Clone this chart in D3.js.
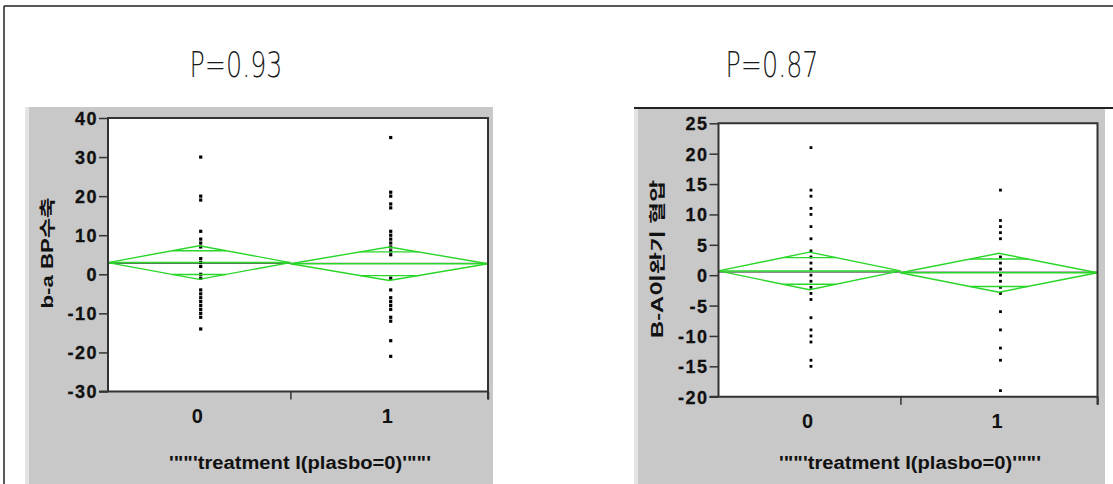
<!DOCTYPE html>
<html lang="en">
<head>
    <meta charset="UTF-8">
    <title>Means diamonds</title>
    <script src="https://d3js.org/d3.v7.min.js"></script>
    <style type="text/css">
        body { margin: 0; background: #fff; }
        .ytick text { font-family: "Liberation Sans", Arial, sans-serif; font-size: 18px; font-weight: bold; letter-spacing: 1.5px; }
    </style>
</head>
    <body>
        <script type="text/javascript">

        //Width and height
        var w = 1113;
        var h = 484;

        //Data
        var groups = ["0", "1"];
        var groupN = [24, 26];

        var leftTitle = "P=0.93";
        var leftYLabel = "b-a BP수축";
        var leftTicks = [40, 30, 20, 10, 0, -10, -20, -30];
        var leftVals0 = [30, 20, 19, 11, 9, 8, 7, 4, 3, 2, 0, -1, -4, -5, -6, -7, -8, -9, -10, -11, -14];
        var leftVals1 = [35, 21, 20, 18, 17, 11, 10, 9, 8, 7, 6, 5, -1, -4, -6, -7, -8, -9, -11, -12, -17, -21];
        var leftMeans = [3.0, 2.7];
        var leftHalfCI = [4.3, 4.3];
        var leftGrand = 2.8;

        var rightTitle = "P=0.87";
        var rightYLabel = "B-A이완기 혈압";
        var rightTicks = [25, 20, 15, 10, 5, 0, -5, -10, -15, -20];
        var rightVals0 = [21, 14, 13, 11, 10, 8, 6, 4, 3, 2, 1, 0, -1, -2, -3, -4, -7, -9, -10, -11, -14, -15];
        var rightVals1 = [14, 9, 8, 7, 6, 3, 2, 1, 0, -1, -2, -3, -6, -9, -12, -14, -19];
        var rightMeans = [0.7, 0.4];
        var rightHalfCI = [3.1, 3.2];
        var rightGrand = 0.5;

        var xTitle = "'\"\"'treatment I(plasbo=0)'\"\"'";

        var green = "#29d629";

        var svg = d3.select("body")
            .append("svg")
            .attr("width", w)
            .attr("height", h);

        //outer frame
        svg.append("line").attr("x1", 4).attr("y1", 6).attr("x2", w).attr("y2", 6)
            .attr("stroke", "#222").attr("stroke-width", 1.5);
        svg.append("line").attr("x1", 4).attr("y1", 6).attr("x2", 4).attr("y2", h)
            .attr("stroke", "#222").attr("stroke-width", 1.5);

        function drawPanel(p) {
            var g = svg.append("g");

            //gray frame of the jmp window
            g.append("rect")
                .attr("x", p.box[0]).attr("y", p.box[1])
                .attr("width", p.box[2] - p.box[0]).attr("height", h - p.box[1])
                .attr("fill", "#c8c8c8");
            g.append("rect")
                .attr("x", p.box[0]).attr("y", p.box[1])
                .attr("width", 4).attr("height", h - p.box[1])
                .attr("fill", "#e4e4e4");

            //plot area
            g.append("rect")
                .attr("x", p.left).attr("y", p.top)
                .attr("width", p.right - p.left).attr("height", p.bottom - p.top)
                .attr("fill", "#fff");

            var yScale = d3.scaleLinear()
                .domain([p.ticks[p.ticks.length - 1], p.ticks[0]])
                .range([p.bottom, p.top]);

            var total = d3.sum(groupN);
            var xScale = d3.scaleLinear()
                .domain([0, total])
                .range([p.left, p.right]);
            var starts = [0, groupN[0]];
            var ends = [groupN[0], total];

            //grand mean
            g.append("line")
                .attr("x1", p.left).attr("x2", p.right)
                .attr("y1", yScale(p.grand)).attr("y2", yScale(p.grand))
                .attr("stroke", "#666").attr("stroke-width", 1.2);

            //points
            [p.vals0, p.vals1].forEach(function(vals, i) {
                var cx = xScale((starts[i] + ends[i]) / 2) + 1.5;
                g.selectAll(null)
                    .data(vals)
                    .enter()
                    .append("rect")
                    .attr("x", cx - p.dot / 2)
                    .attr("y", function(d) { return yScale(d) - p.dot / 2; })
                    .attr("width", p.dot)
                    .attr("height", p.dot)
                    .attr("fill", "#000");
            });

            //means diamonds
            groups.forEach(function(grp, i) {
                var x0 = xScale(starts[i]), x1 = xScale(ends[i]);
                var xm = (x0 + x1) / 2;
                var m = p.means[i], ci = p.halfCI[i];
                var pts = [[x0, yScale(m)], [xm, yScale(m + ci)], [x1, yScale(m)], [xm, yScale(m - ci)]];
                g.append("path")
                    .attr("d", d3.line()(pts) + "Z")
                    .attr("fill", "none")
                    .attr("stroke", green)
                    .attr("stroke-width", 1.4);
                g.append("line")
                    .attr("x1", x0).attr("x2", x1)
                    .attr("y1", yScale(m)).attr("y2", yScale(m))
                    .attr("stroke", green).attr("stroke-width", 1.6);
                //overlap marks
                var off = ci / Math.SQRT2;
                var half = (x1 - x0) / 2 * (1 - 1 / Math.SQRT2);
                [m + off, m - off].forEach(function(v) {
                    g.append("line")
                        .attr("x1", xm - half).attr("x2", xm + half)
                        .attr("y1", yScale(v)).attr("y2", yScale(v))
                        .attr("stroke", green).attr("stroke-width", 1.4);
                });
            });

            //axes
            var yAxis = d3.axisLeft(yScale).tickValues(p.ticks).tickSize(9).tickPadding(1)
                .tickFormat(function(d) { return String(d); });
            var ya = g.append("g")
                .attr("class", "ytick")
                .attr("transform", "translate(" + p.left + ",0)")
                .call(yAxis);
            ya.select(".domain").remove();
            ya.selectAll("line").attr("stroke", "#333").attr("stroke-width", 1.5);
            ya.selectAll("text").attr("fill", "#111").attr("dy", "0.36em")
                .attr("stroke", "#111").attr("stroke-width", 0.3);

            var xa = g.append("g")
                .attr("transform", "translate(0," + p.bottom + ")")
                .call(d3.axisBottom(xScale).tickValues([groupN[0], total]).tickSize(8).tickFormat(""));
            xa.select(".domain").remove();
            xa.selectAll("line").attr("stroke", "#333").attr("stroke-width", 1.5);

            g.selectAll(".xlab")
                .data(groups)
                .enter()
                .append("text")
                .attr("x", function(d, i) { return xScale((starts[i] + ends[i]) / 2) - 2; })
                .attr("y", p.bottom + 31)
                .attr("text-anchor", "middle")
                .attr("font-family", "Liberation Sans, Arial, sans-serif")
                .attr("font-weight", "bold")
                .attr("font-size", "20px")
                .attr("fill", "#111")
                .text(function(d) { return d; });

            //frame of the plot area
            g.append("path")
                .attr("d", "M" + p.left + "," + p.bottom + "V" + p.top + "H" + p.right + "V" + (p.bottom + 8))
                .attr("fill", "none").attr("stroke", "#333").attr("stroke-width", 2);
            g.append("line")
                .attr("x1", p.left - 9).attr("x2", p.right)
                .attr("y1", p.bottom).attr("y2", p.bottom)
                .attr("stroke", "#333").attr("stroke-width", 2);

            //titles
            g.append("text")
                .attr("x", (p.left + p.right) / 2 + 2)
                .attr("y", 469)
                .attr("text-anchor", "middle")
                .attr("font-family", "Liberation Sans, Arial, sans-serif")
                .attr("font-weight", "bold")
                .attr("font-size", "18px")
                .attr("textLength", 262)
                .attr("lengthAdjust", "spacingAndGlyphs")
                .attr("fill", "#111")
                .text(xTitle);

            g.append("text")
                .attr("transform", "translate(" + p.ylab[0] + "," + p.ylab[1] + ") rotate(-90)")
                .attr("text-anchor", "middle")
                .attr("font-family", "Liberation Sans, 'Noto Sans CJK KR', sans-serif")
                .attr("font-weight", "bold")
                .attr("font-size", "16px")
                .attr("textLength", p.ylab[2])
                .attr("lengthAdjust", "spacingAndGlyphs")
                .attr("fill", "#111")
                .text(p.yLabel);

            svg.append("text")
                .attr("x", p.title[0])
                .attr("y", p.title[1])
                .attr("text-anchor", "middle")
                .attr("font-family", "DejaVu Sans, sans-serif")
                .attr("font-weight", 200)
                .attr("font-size", "36px")
                .attr("textLength", 93)
                .attr("lengthAdjust", "spacingAndGlyphs")
                .attr("fill", "#1a1a1a")
                .text(p.titleText);
        }

        drawPanel({
            box: [25, 107, 493], left: 108, right: 488, top: 118, bottom: 391.5,
            ticks: leftTicks, vals0: leftVals0, vals1: leftVals1,
            means: leftMeans, halfCI: leftHalfCI, grand: leftGrand,
            dot: 3.2, yLabel: leftYLabel, ylab: [53, 253, 111],
            titleText: leftTitle, title: [236, 77]
        });

        drawPanel({
            box: [634, 109, 1105], left: 718.5, right: 1097.5, top: 123.3, bottom: 396.7,
            ticks: rightTicks, vals0: rightVals0, vals1: rightVals1,
            means: rightMeans, halfCI: rightHalfCI, grand: rightGrand,
            dot: 2.8, yLabel: rightYLabel, ylab: [663, 259, 158],
            titleText: rightTitle, title: [772, 77]
        });

        //cut-off header line of the right window
        svg.append("line")
            .attr("x1", 634).attr("x2", w)
            .attr("y1", 108).attr("y2", 108)
            .attr("stroke", "#222").attr("stroke-width", 2);

        </script>
    </body>
</html>
